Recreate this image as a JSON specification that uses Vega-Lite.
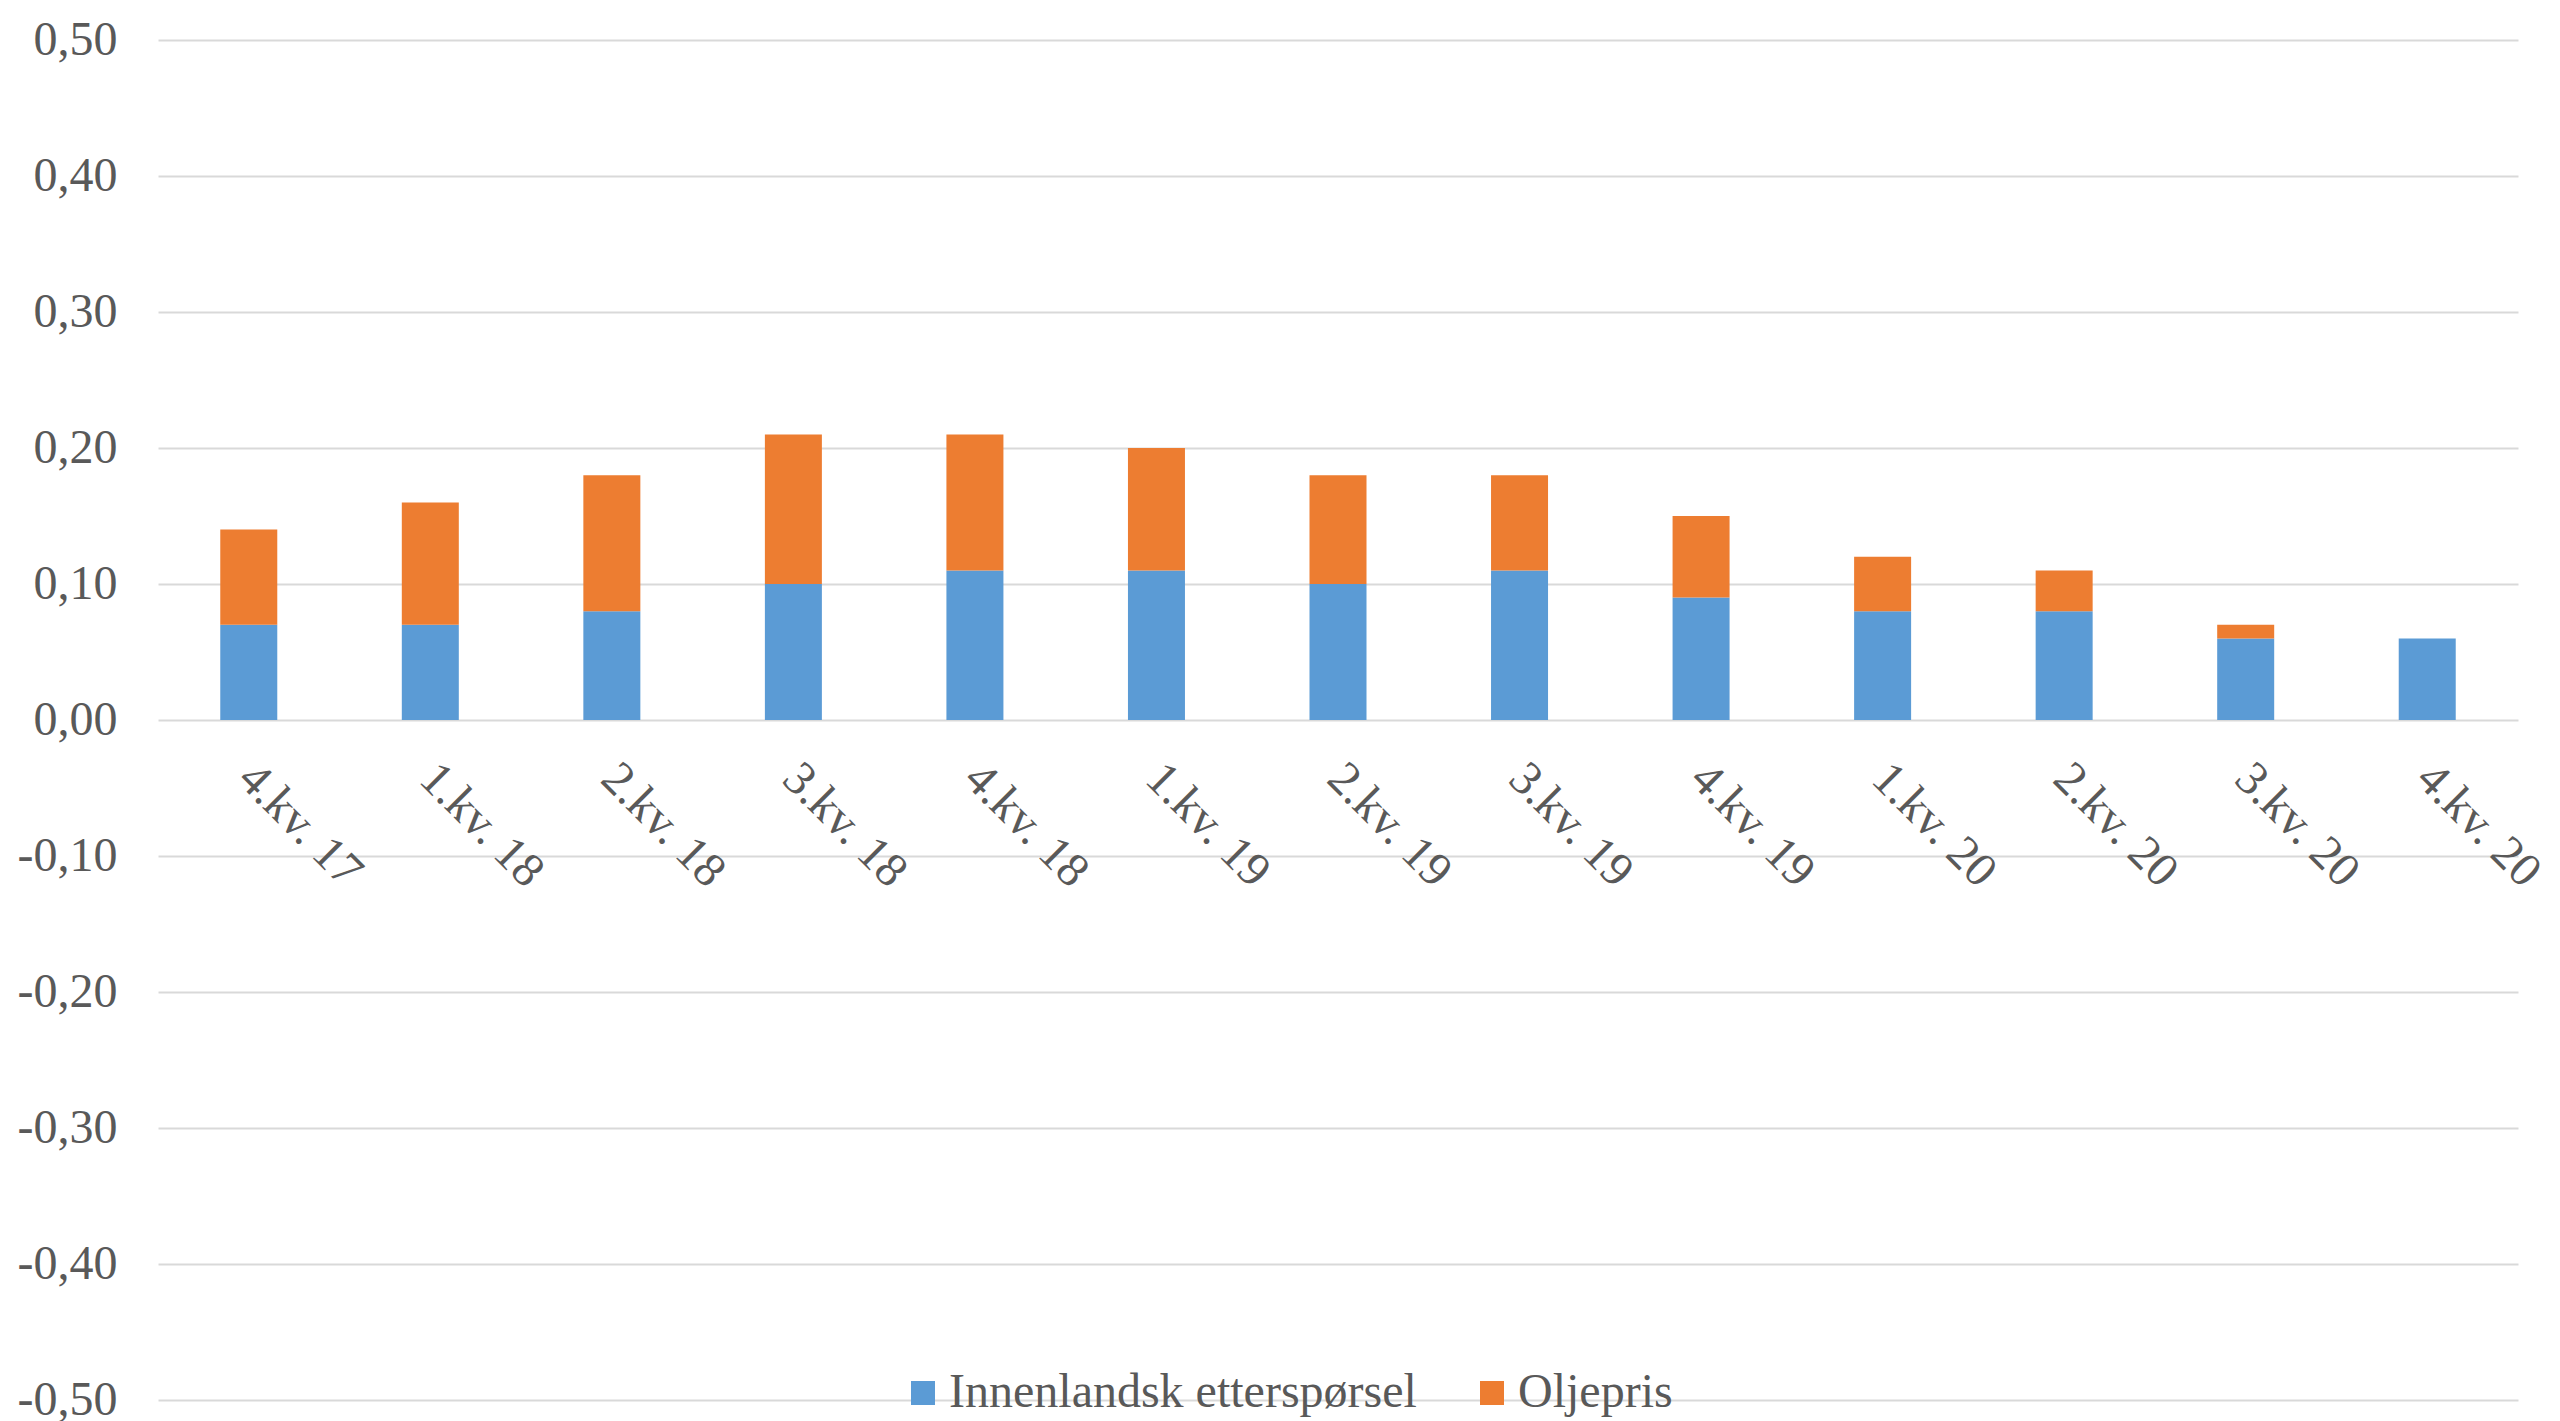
{
  "$schema": "https://vega.github.io/schema/vega-lite/v6.json",
  "autosize": {"type": "none"},
  "width": 2360,
  "height": 1360,
  "padding": {"left": 158, "top": 40, "right": 42, "bottom": 21},
  "background": "white",
  "data": {"values": [
    {"q": "4.kv. 17", "s": "Innenlandsk etterspørsel", "k": 1, "v": 0.07},
    {"q": "4.kv. 17", "s": "Oljepris", "k": 2, "v": 0.07},
    {"q": "1.kv. 18", "s": "Innenlandsk etterspørsel", "k": 1, "v": 0.07},
    {"q": "1.kv. 18", "s": "Oljepris", "k": 2, "v": 0.09},
    {"q": "2.kv. 18", "s": "Innenlandsk etterspørsel", "k": 1, "v": 0.08},
    {"q": "2.kv. 18", "s": "Oljepris", "k": 2, "v": 0.10},
    {"q": "3.kv. 18", "s": "Innenlandsk etterspørsel", "k": 1, "v": 0.10},
    {"q": "3.kv. 18", "s": "Oljepris", "k": 2, "v": 0.11},
    {"q": "4.kv. 18", "s": "Innenlandsk etterspørsel", "k": 1, "v": 0.11},
    {"q": "4.kv. 18", "s": "Oljepris", "k": 2, "v": 0.10},
    {"q": "1.kv. 19", "s": "Innenlandsk etterspørsel", "k": 1, "v": 0.11},
    {"q": "1.kv. 19", "s": "Oljepris", "k": 2, "v": 0.09},
    {"q": "2.kv. 19", "s": "Innenlandsk etterspørsel", "k": 1, "v": 0.10},
    {"q": "2.kv. 19", "s": "Oljepris", "k": 2, "v": 0.08},
    {"q": "3.kv. 19", "s": "Innenlandsk etterspørsel", "k": 1, "v": 0.11},
    {"q": "3.kv. 19", "s": "Oljepris", "k": 2, "v": 0.07},
    {"q": "4.kv. 19", "s": "Innenlandsk etterspørsel", "k": 1, "v": 0.09},
    {"q": "4.kv. 19", "s": "Oljepris", "k": 2, "v": 0.06},
    {"q": "1.kv. 20", "s": "Innenlandsk etterspørsel", "k": 1, "v": 0.08},
    {"q": "1.kv. 20", "s": "Oljepris", "k": 2, "v": 0.04},
    {"q": "2.kv. 20", "s": "Innenlandsk etterspørsel", "k": 1, "v": 0.08},
    {"q": "2.kv. 20", "s": "Oljepris", "k": 2, "v": 0.03},
    {"q": "3.kv. 20", "s": "Innenlandsk etterspørsel", "k": 1, "v": 0.06},
    {"q": "3.kv. 20", "s": "Oljepris", "k": 2, "v": 0.01},
    {"q": "4.kv. 20", "s": "Innenlandsk etterspørsel", "k": 1, "v": 0.06},
    {"q": "4.kv. 20", "s": "Oljepris", "k": 2, "v": 0.0}
  ]},
  "mark": {"type": "bar"},
  "encoding": {
    "x": {
      "field": "q", "type": "nominal", "sort": null,
      "scale": {"paddingInner": 0.686, "paddingOuter": 0.343},
      "axis": {
        "title": null, "domain": false, "ticks": false, "grid": false,
        "offset": -680, "labelAngle": 45, "labelAlign": "left", "labelBaseline": "top",
        "labelPadding": 34, "labelOffset": 14, "labelFont": "Liberation Serif", "labelFontSize": 48,
        "labelColor": "#595959"
      }
    },
    "y": {
      "field": "v", "type": "quantitative", "stack": "zero",
      "scale": {"domain": [-0.5, 0.5], "nice": false, "zero": false},
      "axis": {
        "title": null, "domain": false, "ticks": false,
        "values": [-0.5, -0.4, -0.3, -0.2, -0.1, 0, 0.1, 0.2, 0.3, 0.4, 0.5],
        "labelExpr": "replace(replace(format(datum.value, '.2f'), '.', ','), '−', '-')",
        "labelPadding": 41, "labelFont": "Liberation Serif", "labelFontSize": 48,
        "labelColor": "#595959", "gridColor": "#D9D9D9", "gridWidth": 2
      }
    },
    "color": {
      "field": "s", "type": "nominal",
      "scale": {"domain": ["Innenlandsk etterspørsel", "Oljepris"], "range": ["#5B9BD5", "#ED7D31"]},
      "legend": {
        "title": null, "orient": "none", "direction": "horizontal",
        "legendX": 741, "legendY": 1329,
        "symbolType": "square", "symbolSize": 576, "symbolStrokeWidth": 0,
        "labelFont": "Liberation Serif", "labelFontSize": 48, "labelColor": "#595959",
        "labelLimit": 1000, "columnPadding": 51, "labelOffset": 2
      }
    },
    "order": {"field": "k", "type": "quantitative"}
  },
  "config": {"view": {"stroke": null}}
}
